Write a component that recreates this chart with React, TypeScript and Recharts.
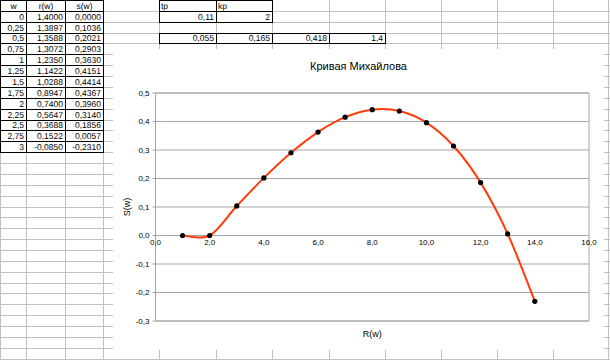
import React from 'react';
import { LineChart, Line, XAxis, YAxis, CartesianGrid, ReferenceArea, ReferenceDot } from 'recharts';

// ---- spreadsheet data ----
const wValues = [0, 0.25, 0.5, 0.75, 1, 1.25, 1.5, 1.75, 2, 2.25, 2.5, 2.75, 3];
const rValues = [1.4, 1.3897, 1.3588, 1.3072, 1.235, 1.1422, 1.0288, 0.8947, 0.74, 0.5647, 0.3688, 0.1522, -0.085];
const sValues = [0.0, 0.1036, 0.2021, 0.2903, 0.363, 0.4151, 0.4414, 0.4367, 0.396, 0.314, 0.1856, 0.0057, -0.231];
const tableHeaders = ['w', 'r(w)', 's(w)'];
const paramHeaders = ['tp', 'kp'];
const paramValues = ['0,11', '2'];
const row4Values = ['0,055', '0,165', '0,418', '1,4'];

// ---- chart series (Excel plotted header cell as 0, x as index 1..14) ----
const seriesX = [1, 2, 3, 4, 5, 6, 7, 8, 9, 10, 11, 12, 13, 14];
const seriesY = [0, 0.0, 0.1036, 0.2021, 0.2903, 0.363, 0.4151, 0.4414, 0.4367, 0.396, 0.314, 0.1856, 0.0057, -0.231];
const xTicks = [0, 2, 4, 6, 8, 10, 12, 14, 16];
const yTicks = [-0.3, -0.2, -0.1, 0, 0.1, 0.2, 0.3, 0.4, 0.5];
const chartTitle = 'Кривая Михайлова';

const chartData = seriesX.map((x, i) => ({ x, y: seriesY[i] }));

const comma = (v: number, d: number) => v.toFixed(d).replace('.', ',');
const general = (v: number) => String(v).replace('.', ',');

// Excel-like smoothing (Catmull-Rom bezier)
const excelSmooth = (context: any) => {
  let pts: number[][] = [];
  return {
    areaStart() {},
    areaEnd() {},
    lineStart() { pts = []; },
    point(x: number, y: number) { pts.push([+x, +y]); },
    lineEnd() {
      const n = pts.length;
      if (!n) return;
      context.moveTo(pts[0][0], pts[0][1]);
      for (let i = 0; i < n - 1; i++) {
        const p0 = pts[i - 1] || pts[i];
        const p1 = pts[i];
        const p2 = pts[i + 1];
        const p3 = pts[i + 2] || pts[i + 1];
        context.bezierCurveTo(
          p1[0] + (p2[0] - p0[0]) / 6, p1[1] + (p2[1] - p0[1]) / 6,
          p2[0] - (p3[0] - p1[0]) / 6, p2[1] - (p3[1] - p1[1]) / 6,
          p2[0], p2[1]
        );
      }
    },
  };
};

const colEdges = [0, 26, 65, 103, 159, 216, 272, 329, 385, 441, 497, 553, 608];
const ROW_H = 10.87;
const rowY = (k: number) => Math.round(k * ROW_H) + 0.5;
const GRID = '#c0c0c0';
const PLOT_GRAY = '#a6a6a6';
const FONT = '"Liberation Sans", Arial, sans-serif';

const Sheet = () => {
  const lines: React.ReactNode[] = [];
  const nRows = 34;
  for (let k = 1; k <= nRows; k++) {
    lines.push(<line key={'h' + k} x1={0} x2={610} y1={rowY(k)} y2={rowY(k)} stroke={GRID} />);
  }
  colEdges.forEach((x, i) => {
    lines.push(<line key={'v' + i} x1={x + 0.5} x2={x + 0.5} y1={0} y2={360} stroke={GRID} />);
  });
  const black: React.ReactNode[] = [];
  // main table A1:C14
  for (let k = 0; k <= 14; k++) {
    black.push(<line key={'tb' + k} x1={0} x2={colEdges[3] + 1} y1={rowY(k)} y2={rowY(k)} stroke="#000" />);
  }
  for (let c = 0; c <= 3; c++) {
    black.push(<line key={'tv' + c} x1={colEdges[c] + 0.5} x2={colEdges[c] + 0.5} y1={0} y2={rowY(14)} stroke="#000" />);
  }
  // params E1:F2
  for (let k = 0; k <= 2; k++) {
    black.push(<line key={'pb' + k} x1={colEdges[4]} x2={colEdges[6] + 1} y1={rowY(k)} y2={rowY(k)} stroke="#000" />);
  }
  for (let c = 4; c <= 6; c++) {
    black.push(<line key={'pv' + c} x1={colEdges[c] + 0.5} x2={colEdges[c] + 0.5} y1={0} y2={rowY(2)} stroke="#000" />);
  }
  // row 4 E4:H4
  for (let k = 3; k <= 4; k++) {
    black.push(<line key={'qb' + k} x1={colEdges[4]} x2={colEdges[8] + 1} y1={rowY(k)} y2={rowY(k)} stroke="#000" />);
  }
  for (let c = 4; c <= 8; c++) {
    black.push(<line key={'qv' + c} x1={colEdges[c] + 0.5} x2={colEdges[c] + 0.5} y1={rowY(3)} y2={rowY(4)} stroke="#000" />);
  }

  const texts: React.ReactNode[] = [];
  const base = (r: number) => Math.round((r + 1) * ROW_H) - 2;
  tableHeaders.forEach((h, c) => {
    texts.push(<text key={'th' + c} x={(colEdges[c] + colEdges[c + 1]) / 2 + 0.5} y={base(0)} textAnchor="middle">{h}</text>);
  });
  wValues.forEach((w, i) => {
    const r = i + 1;
    texts.push(<text key={'w' + i} x={colEdges[1] - 2} y={base(r)} textAnchor="end">{general(w)}</text>);
    texts.push(<text key={'r' + i} x={colEdges[2] - 2} y={base(r)} textAnchor="end">{comma(rValues[i], 4)}</text>);
    texts.push(<text key={'s' + i} x={colEdges[3] - 2} y={base(r)} textAnchor="end">{comma(sValues[i], 4)}</text>);
  });
  paramHeaders.forEach((h, i) => {
    texts.push(<text key={'ph' + i} x={colEdges[4 + i] + 2} y={base(0)}>{h}</text>);
  });
  paramValues.forEach((v, i) => {
    texts.push(<text key={'pv' + i} x={colEdges[5 + i] - 2} y={base(1)} textAnchor="end">{v}</text>);
  });
  row4Values.forEach((v, i) => {
    texts.push(<text key={'q' + i} x={colEdges[5 + i] - 2} y={base(3)} textAnchor="end">{v}</text>);
  });

  return (
    <svg width={610} height={360} style={{ position: 'absolute', left: 0, top: 0 }} shapeRendering="crispEdges">
      <rect x={0} y={0} width={610} height={360} fill="#fff" />
      {lines}
      {black}
      <g fontFamily={FONT} fontSize={8.5} fill="#000" style={{ textRendering: 'geometricPrecision' }}>
        {texts}
      </g>
    </svg>
  );
};

const renderDot = (p: any) => {
  const { cx, cy, index } = p;
  return <circle key={'d' + index} cx={cx} cy={cy} r={2.6} fill="#000" stroke="none" />;
};

const CHART_W = 491;
const CHART_H = 301;

export default function App() {
  return (
    <div style={{ position: 'absolute', left: 0, top: 0, width: 610, height: 360, overflow: 'hidden', background: '#fff', fontFamily: FONT }}>
      <Sheet />
      <div style={{ position: 'absolute', left: 113, top: 49, width: CHART_W, height: CHART_H, background: '#fff' }}>
        <div style={{ position: 'absolute', left: 0, top: 11, width: CHART_W, textAlign: 'center', fontSize: 11, color: '#000', lineHeight: '13px' }}>
          {chartTitle}
        </div>
        <LineChart width={CHART_W} height={CHART_H} data={chartData} margin={{ top: 44, right: 15, bottom: 4, left: 12.5 }}>
          <CartesianGrid vertical={false} stroke={PLOT_GRAY} />
          <ReferenceArea x1={0} x2={16} y1={-0.3} y2={0.5} fill="none" stroke={PLOT_GRAY} ifOverflow="visible" />
          <XAxis
            type="number"
            dataKey="x"
            domain={[0, 16]}
            ticks={xTicks}
            tick={false}
            tickLine={false}
            axisLine={false}
            height={25}
            label={{
              content: (p: any) => {
                const vb = p.viewBox;
                return (
                  <text x={vb.x + vb.width / 2} y={vb.y + 13} textAnchor="middle" dominantBaseline="central" fontSize={9} fill="#000">R(w)</text>
                );
              },
            }}
          />
          <YAxis
            type="number"
            domain={[-0.3, 0.5]}
            ticks={yTicks}
            interval={0}
            tickFormatter={(v: number) => comma(v, 1)}
            width={30}
            axisLine={{ stroke: PLOT_GRAY }}
            tickLine={{ stroke: PLOT_GRAY }}
            tickSize={3}
            tickMargin={3}
            tick={{ fontSize: 8, fill: '#000' }}
            label={{
              content: (p: any) => {
                const vb = p.viewBox;
                const cx = vb.x + 1.5;
                const cy = vb.y + vb.height / 2;
                return (
                  <text x={cx} y={cy} transform={`rotate(-90 ${cx} ${cy})`} textAnchor="middle" dominantBaseline="central" fontSize={9} fill="#000">S(w)</text>
                );
              },
            }}
          />
          {xTicks.map((t) => (
            <ReferenceDot
              key={'xt' + t}
              x={t}
              y={0}
              r={0.5}
              fill="none"
              stroke="none"
              ifOverflow="visible"
              label={{ value: comma(t, 1), position: 'bottom', offset: 3, fontSize: 8, fill: '#000' }}
            />
          ))}
          <Line
            type={excelSmooth as any}
            dataKey="y"
            stroke="#FF3C0A"
            strokeWidth={2}
            dot={renderDot}
            activeDot={false}
            isAnimationActive={false}
          />
        </LineChart>
      </div>
    </div>
  );
}
